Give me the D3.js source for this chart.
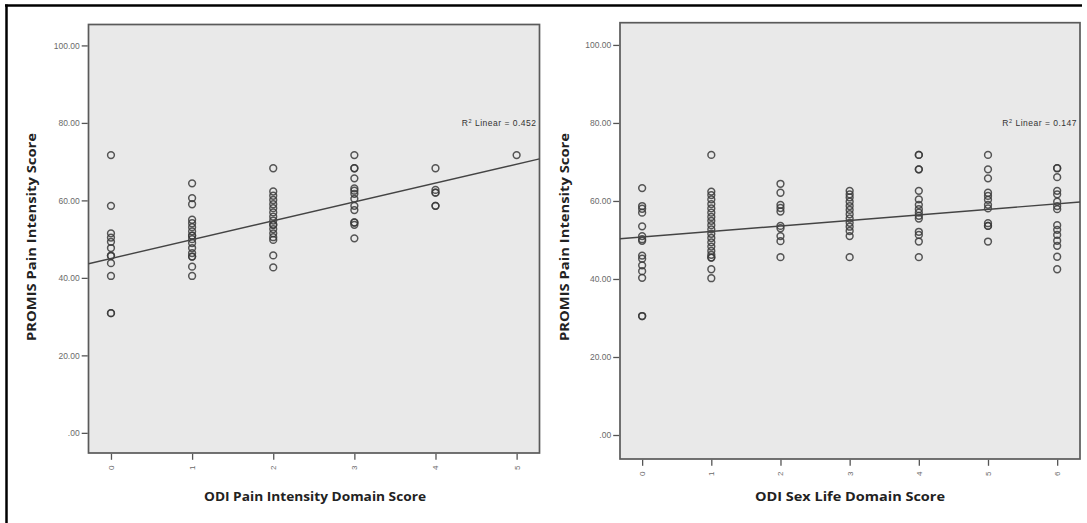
<!DOCTYPE html>
<html>
<head>
<meta charset="utf-8">
<script src="https://cdn.jsdelivr.net/npm/d3@7"></script>
<style>
  body { margin: 0; background: #fff; }
  svg { display: block; }
  .tick text { font-family: "Liberation Sans", Arial, sans-serif; fill: #6a6a6a; }
  .tick line { stroke: #555; }
  .title { font-family: "Open Sans", "DejaVu Sans", sans-serif; font-weight: bold; fill: #222; }
</style>
</head>
<body>
<div id="chart"></div>
<script>
// shared y ticks (PROMIS score)
var yTicks = [0, 20, 40, 60, 80, 100];

// left panel: ODI pain intensity domain (0..5)
var leftXTicks = [0, 1, 2, 3, 4, 5];
var leftScores = [
    [71.7, 58.6, 51.5, 50.4, 49.3, 47.7, 45.7, 45.7, 43.8, 40.5, 30.9, 30.9],
    [64.4, 60.6, 59.0, 55.0, 54.1, 53.1, 52.0, 50.9, 50.9, 50.0, 49.0, 47.7, 46.4, 45.5, 45.5, 42.9, 40.5],
    [68.3, 62.3, 61.2, 60.1, 59.0, 58.0, 56.9, 55.8, 54.8, 53.7, 53.7, 52.6, 51.5, 50.5, 49.8, 45.8, 42.7],
    [71.7, 68.3, 68.3, 65.7, 63.1, 62.5, 61.7, 60.4, 58.6, 57.5, 54.3, 54.3, 53.7, 50.2],
    [68.3, 62.7, 62.0, 62.0, 58.6, 58.6],
    [71.7]
];
var leftFit = [45.0, 4.87];
var leftR2 = "0.452";

// right panel: ODI sex life domain (0..6)
var rightXTicks = [0, 1, 2, 3, 4, 5, 6];
var rightScores = [
    [63.3, 58.7, 58.0, 57.0, 53.5, 51.0, 50.2, 49.8, 46.0, 45.2, 43.5, 42.0, 40.3, 30.5, 30.5],
    [71.8, 62.4, 61.5, 60.4, 59.2, 58.1, 57.0, 55.9, 54.9, 53.8, 52.7, 51.6, 50.5, 49.4, 48.3, 47.2, 46.2, 45.5, 45.5, 42.5, 40.2],
    [64.4, 62.1, 59.0, 58.2, 57.3, 53.6, 53.0, 51.0, 49.7, 45.6],
    [62.6, 61.7, 60.9, 59.8, 58.7, 57.7, 56.6, 55.5, 54.4, 53.4, 52.3, 51.0, 45.6],
    [71.8, 71.8, 68.1, 68.1, 62.6, 60.4, 59.0, 57.9, 57.0, 56.2, 55.5, 52.1, 51.3, 49.6, 45.6],
    [71.8, 68.1, 65.8, 62.1, 61.3, 60.3, 59.0, 58.1, 54.3, 53.6, 53.6, 49.6],
    [68.4, 68.4, 66.1, 62.6, 61.7, 59.8, 58.7, 57.9, 53.8, 52.6, 51.3, 49.8, 48.5, 45.7, 42.5]
];
var rightFit = [50.75, 1.42];
var rightR2 = "0.147";

var yTitle = "PROMIS Pain Intensity Score";

var svgWidth = 1087;
var svgHeight = 523;

var svg = d3.select("#chart")
    .append("svg")
    .attr("width", svgWidth)
    .attr("height", svgHeight);

// cropped figure frame (top and left only)
svg.append("line")
    .attr("x1", 5).attr("x2", 1082).attr("y1", 5.5).attr("y2", 5.5)
    .attr("stroke", "#000").attr("stroke-width", 2.5);
svg.append("line")
    .attr("x1", 6.5).attr("x2", 6.5).attr("y1", 4.5).attr("y2", 523)
    .attr("stroke", "#000").attr("stroke-width", 2.5);

function drawPanel(cfg) {
    var g = svg.append("g");

    var x = d3.scaleLinear().domain(cfg.xDomain).range([cfg.left, cfg.right]);
    var y = d3.scaleLinear().domain(cfg.yDomain).range([cfg.bottom, cfg.top]);

    g.append("rect")
        .attr("x", cfg.left).attr("y", cfg.top)
        .attr("width", cfg.right - cfg.left)
        .attr("height", cfg.bottom - cfg.top)
        .attr("fill", "#e9e9e9")
        .attr("stroke", "#5a5a5a")
        .attr("stroke-width", 1.7);

    // y axis
    var leftAxis = d3.axisLeft(y)
        .tickValues(yTicks)
        .tickSize(6)
        .tickPadding(2)
        .tickFormat(function (d) { return d === 0 ? ".00" : d.toFixed(2); });
    var ya = g.append("g")
        .attr("transform", "translate(" + (cfg.left - 0.8) + ",0)")
        .call(leftAxis);
    ya.select(".domain").remove();
    ya.selectAll("text").style("font-size", "8.5px");
    ya.selectAll("line").attr("stroke-width", 1.3);

    // x axis, digits turned on their side
    var bottomAxis = d3.axisBottom(x)
        .tickValues(cfg.xTicks)
        .tickSize(6)
        .tickFormat(d3.format("d"));
    var xa = g.append("g")
        .attr("transform", "translate(0," + (cfg.bottom + 0.8) + ")")
        .call(bottomAxis);
    xa.select(".domain").remove();
    xa.selectAll("line").attr("stroke-width", 1.3);
    xa.selectAll("text")
        .style("font-size", "8px")
        .attr("text-anchor", "middle")
        .attr("dy", null)
        .attr("y", 0)
        .attr("transform", "translate(0,14) rotate(-90)")
        .attr("dominant-baseline", "central");

    // points
    var pts = [];
    cfg.scores.forEach(function (col, i) {
        col.forEach(function (v) { pts.push({ x: cfg.xTicks[i], y: v }); });
    });
    g.selectAll(".pt")
        .data(pts)
        .enter()
        .append("circle")
        .attr("class", "pt")
        .attr("cx", function (d) { return x(d.x); })
        .attr("cy", function (d) { return y(d.y); })
        .attr("r", 3.4)
        .attr("fill", "none")
        .attr("stroke", "#3a3a3a")
        .attr("stroke-opacity", 0.85)
        .attr("stroke-width", 1.5);

    // fit line across the whole panel
    var x0 = cfg.xDomain[0], x1 = cfg.xDomain[1];
    g.append("line")
        .attr("x1", x(x0)).attr("y1", y(cfg.fit[0] + cfg.fit[1] * x0))
        .attr("x2", x(x1)).attr("y2", y(cfg.fit[0] + cfg.fit[1] * x1))
        .attr("stroke", "#444")
        .attr("stroke-width", 1.4);

    // R squared label
    var r2 = g.append("text")
        .attr("x", cfg.right - 3)
        .attr("y", y(80) + 3)
        .attr("text-anchor", "end")
        .style("font-family", "'Liberation Sans', Arial, sans-serif")
        .style("font-size", "8.5px")
        .style("letter-spacing", "0.5px")
        .attr("fill", "#333");
    r2.append("tspan").text("R");
    r2.append("tspan").attr("dy", -3).style("font-size", "5.5px").text("2");
    r2.append("tspan").attr("dy", 3).text(" Linear = " + cfg.r2);

    // titles
    g.append("text")
        .attr("class", "title")
        .attr("x", cfg.xTitleX)
        .attr("y", 501)
        .attr("text-anchor", "middle")
        .attr("textLength", cfg.xTitleLen)
        .attr("lengthAdjust", "spacingAndGlyphs")
        .style("font-size", "12px")
        .text(cfg.xTitle);

    g.append("text")
        .attr("class", "title")
        .attr("transform", "translate(" + cfg.yTitleX + ",237) rotate(-90)")
        .attr("text-anchor", "middle")
        .attr("textLength", 208)
        .attr("lengthAdjust", "spacingAndGlyphs")
        .style("font-size", "12px")
        .text(yTitle);
}

drawPanel({
    left: 88.5, right: 539.5, top: 24.5, bottom: 453,
    xDomain: [-0.277, 5.282], yDomain: [-5.2, 105.4],
    xTicks: leftXTicks, scores: leftScores,
    fit: leftFit, r2: leftR2,
    xTitle: "ODI Pain Intensity Domain Score", xTitleX: 315, xTitleLen: 222,
    yTitleX: 36
});

drawPanel({
    left: 620, right: 1080, top: 22.7, bottom: 459,
    xDomain: [-0.32, 6.33], yDomain: [-6.15, 105.7],
    xTicks: rightXTicks, scores: rightScores,
    fit: rightFit, r2: rightR2,
    xTitle: "ODI Sex Life Domain Score", xTitleX: 850, xTitleLen: 190,
    yTitleX: 569
});
</script>
</body>
</html>
